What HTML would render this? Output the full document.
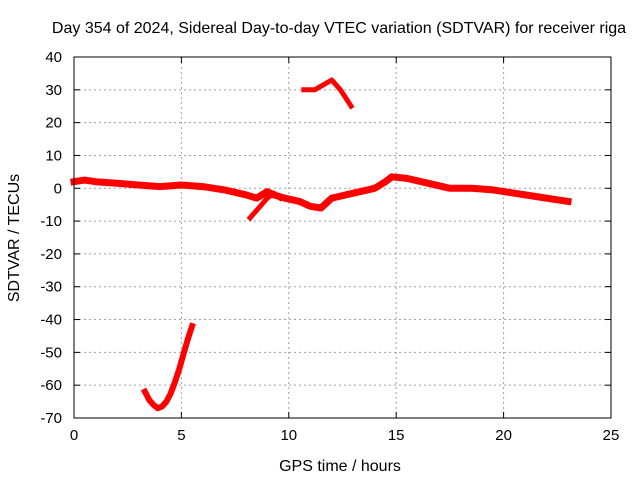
<!DOCTYPE html>
<html><head><meta charset="utf-8"><style>
body{margin:0;background:#fff}
svg{display:block;font-family:"Liberation Sans",sans-serif}
</style></head><body>
<svg id="c" width="640" height="480">
<text x="339" y="33" text-anchor="middle" font-size="16">Day 354 of 2024, Sidereal Day-to-day VTEC variation (SDTVAR) for receiver riga</text>
<text x="340" y="471" text-anchor="middle" font-size="16">GPS time / hours</text>
<text transform="translate(19,238) rotate(-90)" text-anchor="middle" font-size="16">SDTVAR / TECUs</text>
<g id="grid"></g><g id="ticks"></g><g id="marks"></g>
<rect x="74" y="57" width="537" height="361" fill="none" stroke="#000"/>
</svg>
<script>
const xTicks=[0,5,10,15,20,25];
const yTicks=[40,30,20,10,0,-10,-20,-30,-40,-50,-60,-70];
const mainHours=[0,0.5,1,2,3,4,5,6,7,8,8.5,9,9.3,9.8,10.5,11,11.5,12,13,14,14.5,14.8,15.5,16.5,17.5,18.5,19.5,20.5,21.5,22.5,23];
const mainValues=[2,2.5,2,1.5,1,0.5,1,0.5,-0.5,-2,-3,-1,-2,-3,-4,-5.5,-6,-3,-1.5,0,2,3.5,3,1.5,0,0,-0.5,-1.5,-2.5,-3.5,-4];
const dipHours=[8.2,8.6,9.0,9.3,9.6];
const dipValues=[-9,-6,-3,-1.5,-3];
const topHours=[10.7,11.2,11.6,12.0,12.4,12.9];
const topValues=[30,30,31.5,33,30,25];
const lowHours=[3.3,3.5,3.7,3.9,4.1,4.3,4.5,4.7,4.9,5.1,5.3,5.5];
const lowValues=[-62,-64.5,-66,-67,-66.5,-65,-62.5,-59,-55,-50.5,-46,-42];
const X0=74,X1=611,Y0=418,Y1=57;
const sx=v=>X0+(v-0)/(25-0)*(X1-X0);
const sy=v=>Y0-(v+70)/(110)*(Y0-Y1);
const NS="http://www.w3.org/2000/svg";
const grid=document.getElementById('grid'),ticks=document.getElementById('ticks'),marks=document.getElementById('marks');
function mk(tag,at,parent){const e=document.createElementNS(NS,tag);for(const k in at)e.setAttribute(k,at[k]);parent.appendChild(e);return e;}
xTicks.forEach(t=>{const x=sx(t);
 if(t>0&&t<25){const g=mk('line',{x1:x,x2:x,y1:Y1,y2:Y0,stroke:'#a0a0a0','stroke-dasharray':'2,3'},grid);
 
 }
 mk('line',{x1:x,x2:x,y1:Y0,y2:Y0-6,stroke:'#000'},ticks);
 mk('line',{x1:x,x2:x,y1:Y1,y2:Y1+6,stroke:'#000'},ticks);
 const l=mk('text',{x:x,y:Y0+22,'text-anchor':'middle','font-size':15},ticks);l.textContent=t;
 
 });
yTicks.forEach(t=>{const y=sy(t);
 if(t>-70&&t<40){const g=mk('line',{x1:X0,x2:X1,y1:y,y2:y,stroke:'#a0a0a0','stroke-dasharray':'2,3'},grid);
 
 }
 mk('line',{x1:X0,x2:X0+6,y1:y,y2:y,stroke:'#000'},ticks);
 mk('line',{x1:X1,x2:X1-6,y1:y,y2:y,stroke:'#000'},ticks);
 const l=mk('text',{x:X0-12,y:y+5,'text-anchor':'end','font-size':15},ticks);l.textContent=t;
 
 });
function series(hs,vs,name,w){const d=hs.map((h,i)=>(i?'L':'M')+sx(h).toFixed(1)+','+sy(vs[i]).toFixed(1)).join('');
 const p=mk('path',{d:d,fill:'none',stroke:'#ff0000','stroke-width':w,'stroke-linejoin':'round','stroke-linecap':'square'},marks);
 
 }
series(mainHours,mainValues,'sdtvar-main-series',7);
series(dipHours,dipValues,'sdtvar-dip-series',5);
series(topHours,topValues,'sdtvar-high-series',5);
series(lowHours,lowValues,'sdtvar-low-series',6);
</script>
</body></html>
